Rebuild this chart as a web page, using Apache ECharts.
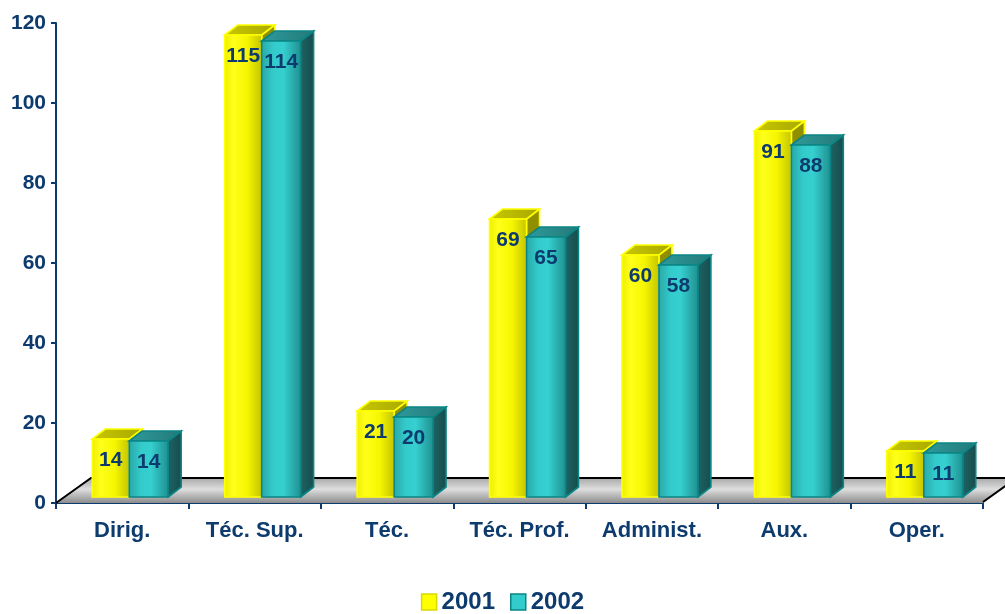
<!DOCTYPE html>
<html>
<head>
<meta charset="utf-8">
<script src="https://cdn.jsdelivr.net/npm/echarts@6/dist/echarts.min.js"></script>
<style>
  html, body { margin: 0; padding: 0; background: #ffffff; }
  #chart { width: 1005px; height: 614px; }
</style>
</head>
<body>
<div id="chart"></div>
<script>
// Staff counts per professional group, two years
const categories = ['Dirig.', 'Téc. Sup.', 'Téc.', 'Téc. Prof.', 'Administ.', 'Aux.', 'Oper.'];
const values2001 = [14, 115, 21, 69, 60, 91, 11];
const values2002 = [14, 114, 20, 65, 58, 88, 11];
const seriesNames = ['2001', '2002'];
const yMin = 0;
const yMax = 120;
const yStep = 20;

const NAVY = '#0d3b6e';
const FONT = '"Liberation Sans", Arial, sans-serif';
const DX = 13;   // box depth, horizontal
const DY = -10;  // box depth, vertical

const yellowStyle = {
  front: new echarts.graphic.LinearGradient(0, 0, 1, 0, [
    { offset: 0, color: '#eeee00' },
    { offset: 0.25, color: '#ffff1a' },
    { offset: 0.6, color: '#f6f600' },
    { offset: 1, color: '#c2c200' }
  ]),
  top: new echarts.graphic.LinearGradient(0, 0, 1, 0, [
    { offset: 0, color: '#c8c800' },
    { offset: 1, color: '#a8a800' }
  ]),
  side: '#8f8f00',
  stroke: '#ffff00'
};

const tealStyle = {
  front: new echarts.graphic.LinearGradient(0, 0, 1, 0, [
    { offset: 0, color: '#29a6a6' },
    { offset: 0.3, color: '#33caca' },
    { offset: 0.55, color: '#36d0d0' },
    { offset: 1, color: '#1f8e8e' }
  ]),
  top: new echarts.graphic.LinearGradient(0, 0, 1, 0, [
    { offset: 0, color: '#2f9a9a' },
    { offset: 1, color: '#237a7a' }
  ]),
  side: new echarts.graphic.LinearGradient(0, 0, 1, 0, [
    { offset: 0, color: '#1d6464' },
    { offset: 1, color: '#174c4c' }
  ]),
  stroke: '#0b8585'
};

// Pseudo-3D box: front face, top face, right side face and a value label
function boxRenderer(style, leftFrac, rightFrac, lift) {
  return function (params, api) {
    const i = api.value(0);
    const v = api.value(1);
    const top = api.coord([i, v]);
    const zero = api.coord([i, 0]);
    const band = api.size([1, 0])[0];
    const x0 = top[0] + band * leftFrac;
    const x1 = top[0] + band * rightFrac;
    const yT = top[1] - lift;
    const yB = zero[1] - 6;
    const lw = 1.6;
    return {
      type: 'group',
      children: [
        {
          type: 'polygon',
          shape: { points: [[x1, yB], [x1 + DX, yB + DY], [x1 + DX, yT + DY], [x1, yT]] },
          style: { fill: style.side, stroke: style.stroke, lineWidth: lw }
        },
        {
          type: 'polygon',
          shape: { points: [[x0, yT], [x0 + DX, yT + DY], [x1 + DX, yT + DY], [x1, yT]] },
          style: { fill: style.top, stroke: style.stroke, lineWidth: lw }
        },
        {
          type: 'rect',
          shape: { x: x0, y: yT, width: x1 - x0, height: yB - yT },
          style: { fill: style.front, stroke: style.stroke, lineWidth: lw }
        },
        {
          type: 'text',
          style: {
            text: String(v),
            x: (x0 + x1) / 2,
            y: yT + 21,
            align: 'center',
            verticalAlign: 'middle',
            fill: NAVY,
            font: 'bold 21px ' + FONT
          }
        }
      ]
    };
  };
}

// Grey floor plane under the boxes
function floorRenderer(params, api) {
  const cs = params.coordSys;
  const xL = cs.x, xR = cs.x + cs.width, yF = cs.y + cs.height;
  return {
    type: 'group',
    children: [
      {
        type: 'polygon',
        shape: { points: [[xL, yF], [xL + 35, yF - 25], [xR + 35, yF - 25], [xR, yF]] },
        style: {
          fill: new echarts.graphic.LinearGradient(0, 0, 0, 1, [
            { offset: 0, color: '#a8a8a8' },
            { offset: 0.45, color: '#dedede' },
            { offset: 1, color: '#8c8c8c' }
          ]),
          stroke: null
        }
      },
      {
        type: 'polyline',
        shape: { points: [[xL, yF], [xL + 35, yF - 25], [xR + 35, yF - 25]] },
        style: { stroke: '#000000', lineWidth: 2, fill: null }
      },
      {
        type: 'line',
        shape: { x1: xR, y1: yF - 1, x2: xR + 35, y2: yF - 26 },
        style: { stroke: '#000000', lineWidth: 2 }
      }
    ]
  };
}

const chart = echarts.init(document.getElementById('chart'), null, { renderer: 'canvas' });

chart.setOption({
  backgroundColor: '#ffffff',
  animation: false,
  grid: { left: 56, right: 22, top: 23, bottom: 111, containLabel: false },
  legend: {
    top: 590,
    left: 'center',
    padding: 0,
    itemWidth: 15,
    itemHeight: 16,
    itemGap: 15,
    textStyle: { color: NAVY, fontWeight: 'bold', fontSize: 24, fontFamily: FONT },
    data: [
      { name: seriesNames[0], icon: 'rect', itemStyle: { color: '#ffff00', borderColor: '#d8d800', borderWidth: 1.5 } },
      { name: seriesNames[1], icon: 'rect', itemStyle: { color: '#33cccc', borderColor: '#0b8585', borderWidth: 1.5 } }
    ]
  },
  xAxis: {
    type: 'category',
    data: categories,
    boundaryGap: true,
    axisLine: { show: true, lineStyle: { color: NAVY, width: 2 } },
    axisTick: { show: true, length: 6, lineStyle: { color: NAVY, width: 2 } },
    axisLabel: { color: NAVY, fontWeight: 'bold', fontSize: 22, fontFamily: FONT, margin: 17 },
    splitLine: { show: false }
  },
  yAxis: {
    type: 'value',
    min: yMin,
    max: yMax,
    interval: yStep,
    axisLine: { show: true, lineStyle: { color: NAVY, width: 2 } },
    axisTick: { show: true, length: 5, lineStyle: { color: NAVY, width: 2 } },
    axisLabel: { color: NAVY, fontWeight: 'bold', fontSize: 21, fontFamily: FONT, margin: 10 },
    splitLine: { show: false }
  },
  series: [
    {
      name: 'floor',
      type: 'custom',
      renderItem: floorRenderer,
      data: [[0, 0]],
      z: 1,
      silent: true
    },
    {
      name: seriesNames[0],
      type: 'custom',
      renderItem: boxRenderer(yellowStyle, -0.226, 0.053, 8),
      itemStyle: { color: '#ffff00' },
      encode: { x: 0, y: 1 },
      data: values2001.map((v, i) => [i, v]),
      z: 2
    },
    {
      name: seriesNames[1],
      type: 'custom',
      renderItem: boxRenderer(tealStyle, 0.053, 0.347, 6),
      itemStyle: { color: '#33cccc' },
      encode: { x: 0, y: 1 },
      data: values2002.map((v, i) => [i, v]),
      z: 3
    }
  ]
});
</script>
</body>
</html>
